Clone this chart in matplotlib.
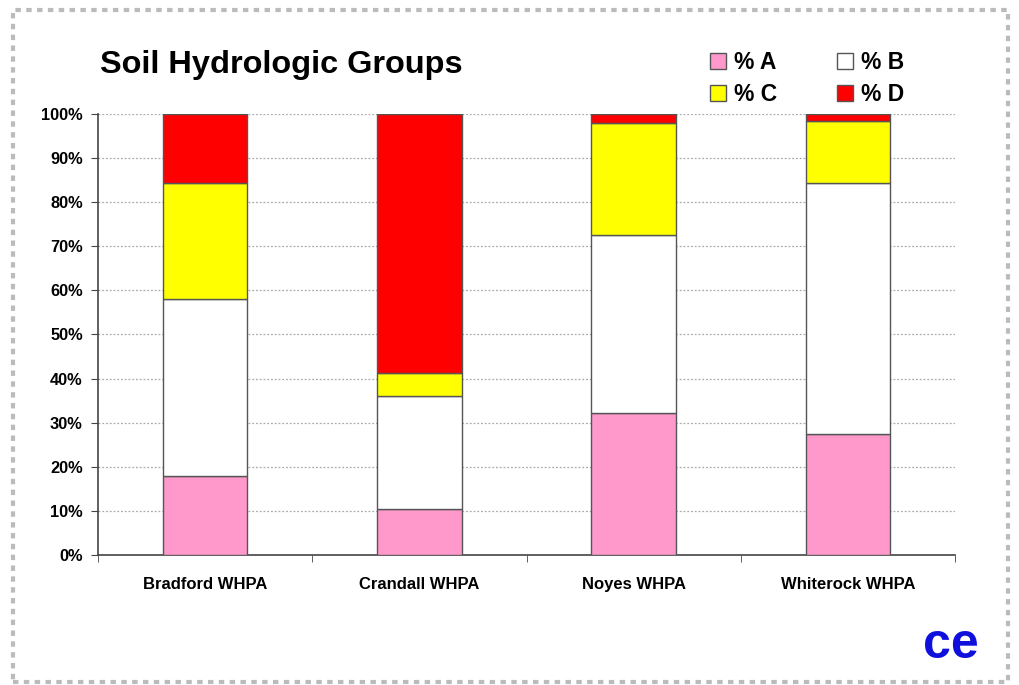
import numpy as np
import matplotlib.pyplot as plt
import matplotlib.patches as mpatches

plt.rcParams['font.family'] = ['Liberation Sans', 'DejaVu Sans']

sites = ['Bradford WHPA', 'Crandall WHPA', 'Noyes WHPA', 'Whiterock WHPA']
pct_a = [17.9, 10.4, 32.1, 27.4]
pct_b = [40.1, 25.7, 40.5, 56.9]
pct_c = [26.3, 5.1, 25.3, 14.0]
pct_d = [15.7, 58.8, 2.1, 1.7]

series = [('% A', pct_a, '#FF99CC'), ('% B', pct_b, '#FFFFFF'),
          ('% C', pct_c, '#FFFF00'), ('% D', pct_d, '#FF0000')]

fig = plt.figure(figsize=(10.2, 6.85), dpi=100)
ax = fig.add_axes([0.0961, 0.1898, 0.8402, 0.6438])

x = np.arange(len(sites))
bottom = np.zeros(len(sites))
handles = {}
for label, vals, col in series:
    bars = ax.bar(x, vals, width=0.395, bottom=bottom, color=col,
                  edgecolor='#555555', linewidth=1.0, label=label, zorder=3)
    handles[label] = bars
    bottom += np.array(vals)

ax.set_xlim(-0.5, len(sites) - 0.5)
ax.set_ylim(0, 100)
ax.set_yticks(np.arange(0, 101, 10))
ax.set_yticklabels([f'{v}%' for v in range(0, 101, 10)], fontsize=11.8, fontweight='bold')
ax.set_xticks(x)
ax.set_xticklabels(sites, fontsize=12, fontweight='bold')
ax.tick_params(axis='x', which='major', length=0, pad=16)
ax.set_xticks(np.arange(-0.5, len(sites), 1.0), minor=True)
ax.tick_params(axis='x', which='minor', length=5, direction='out', color='#444444')
ax.tick_params(axis='y', length=5, direction='out', color='#444444', pad=6)

for v in range(10, 101, 10):
    ax.axhline(v, color='#AAAAAA', linestyle=(0, (1.5, 1.5)), linewidth=0.9, zorder=1)

for s in ['top', 'right']:
    ax.spines[s].set_visible(False)
for s in ['left', 'bottom']:
    ax.spines[s].set_color('#444444')
    ax.spines[s].set_linewidth(1.2)

fig.text(0.098, 0.905, 'Soil Hydrologic Groups', fontsize=23.4, fontweight='bold',
         ha='left', va='center')

order = ['% A', '% C', '% B', '% D']
leg = fig.legend([handles[k] for k in order], order, ncol=2, frameon=False,
                 loc='upper left', bbox_to_anchor=(0.676, 0.956),
                 prop={'size': 16.5, 'weight': 'bold'}, handlelength=0.7,
                 handleheight=0.7, handletextpad=0.35, columnspacing=2.6,
                 labelspacing=0.42)

# company logo mark
fig.text(0.932, 0.058, 'ce', fontsize=36, fontweight='bold', color='#1010DD',
         ha='center', va='center')

# dashed frame round the slide
frame = mpatches.Rectangle((0.013, 0.005), 0.975, 0.98, transform=fig.transFigure,
                           fill=False, edgecolor='#BBBBBB', linewidth=3,
                           linestyle=(0, (1.3, 1.3)))
fig.patches.append(frame)

fig.savefig('out.png', dpi=100)
